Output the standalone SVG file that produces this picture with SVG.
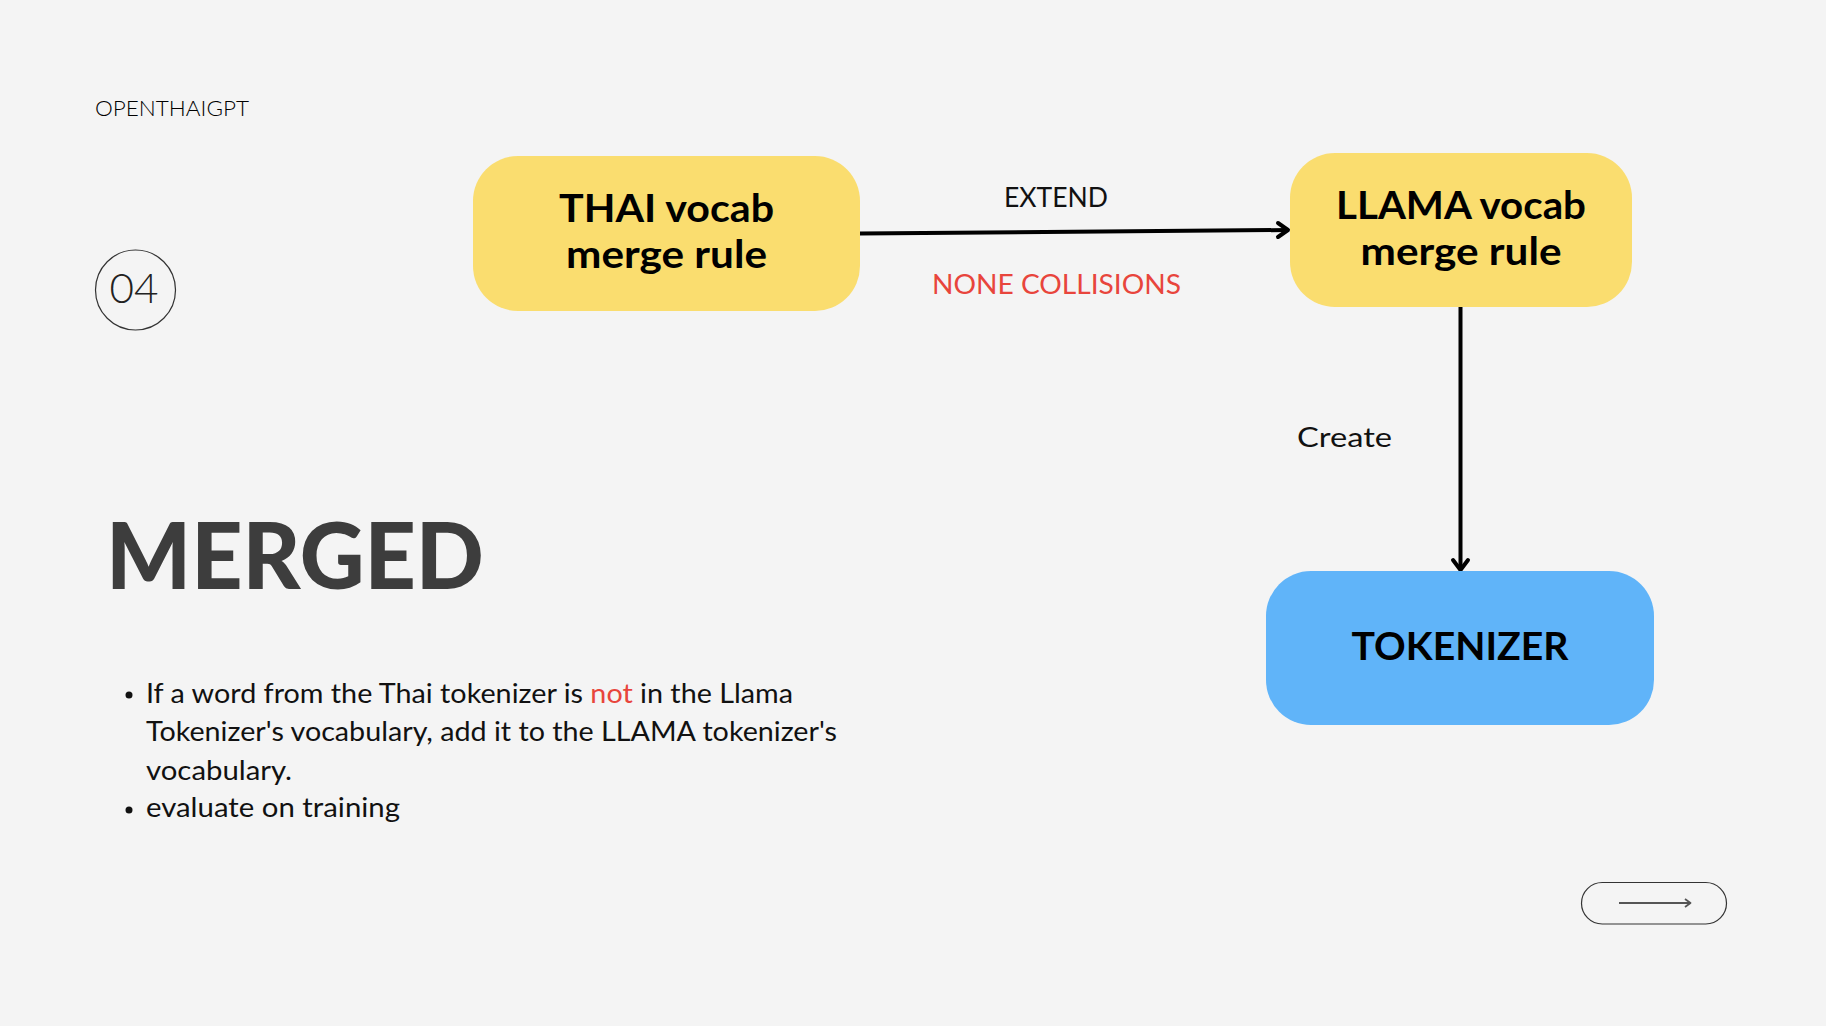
<svg xmlns="http://www.w3.org/2000/svg" width="1826" height="1026" viewBox="0 0 1826 1026">
  <style>
    .sans { font-family: "Lato", "Liberation Sans", "DejaVu Sans", sans-serif; }
    .light { font-weight: 300; }
    .label { font-family: "Lato", "Liberation Sans", sans-serif; font-size: 27px; font-weight: 400; fill: #111; }
    .node-text { font-family: "Lato", "Liberation Sans", sans-serif; font-size: 39px; font-weight: bold; fill: #000; text-anchor: middle; }
    .body { font-family: "Lato", "Liberation Sans", sans-serif; font-size: 27px; font-weight: 400; fill: #111; }
    .yellow { fill: #FADD6F; }
    .blue { fill: #60B4F9; }
    .conn { stroke: #000; stroke-width: 4; fill: none; stroke-linecap: round; stroke-linejoin: round; }
  </style>
  <rect x="0" y="0" width="1826" height="1026" fill="#F4F4F4"/>

  <g id="header">
    <text class="sans light" x="95" y="116" font-size="22" fill="#000" textLength="154" lengthAdjust="spacingAndGlyphs">OPENTHAIGPT</text>
  </g>

  <g id="badge">
    <circle cx="135.5" cy="290" r="40" fill="none" stroke="#333" stroke-width="1.2"/>
    <text class="sans light" x="134" y="303" font-size="42" fill="#222" text-anchor="middle" textLength="49" lengthAdjust="spacingAndGlyphs">04</text>
  </g>

  <g id="title">
    <text class="sans" x="106" y="589" font-size="92" font-weight="900" fill="#3D3D3D" textLength="378" lengthAdjust="spacingAndGlyphs">MERGED</text>
  </g>

  <g id="bullets">
    <circle cx="129" cy="695" r="3.5" fill="#111"/>
    <circle cx="129" cy="810" r="3.5" fill="#111"/>
    <text class="body" x="146" y="703" textLength="647" lengthAdjust="spacingAndGlyphs">If a word from the Thai tokenizer is <tspan fill="#E8453C">not</tspan> in the Llama</text>
    <text class="body" x="146" y="741" textLength="691" lengthAdjust="spacingAndGlyphs">Tokenizer's vocabulary, add it to the LLAMA tokenizer's</text>
    <text class="body" x="146" y="780" textLength="146" lengthAdjust="spacingAndGlyphs">vocabulary.</text>
    <text class="body" x="146" y="817" textLength="254" lengthAdjust="spacingAndGlyphs">evaluate on training</text>
  </g>

  <g id="connectors">
    <line class="conn" x1="860" y1="233.5" x2="1287" y2="230"/>
    <polyline class="conn" points="1278,223 1288,230 1278,237"/>
    <line class="conn" x1="1460.5" y1="307" x2="1460.5" y2="568" stroke-width="3.4"/>
    <polyline class="conn" points="1453,560 1460.5,570 1468,560" stroke-width="3.4"/>
    <text class="label" x="1056" y="207" text-anchor="middle" textLength="104" lengthAdjust="spacingAndGlyphs">EXTEND</text>
    <text class="label" x="1056.5" y="294" text-anchor="middle" style="fill:#E8453C" textLength="249" lengthAdjust="spacingAndGlyphs">NONE COLLISIONS</text>
    <text class="label" x="1297" y="447" font-size="28" textLength="95" lengthAdjust="spacingAndGlyphs">Create</text>
  </g>

  <g id="node-thai">
    <rect class="yellow" x="473" y="156" width="387" height="155" rx="45" ry="45"/>
    <text class="node-text" x="666.5" y="222" textLength="215" lengthAdjust="spacingAndGlyphs">THAI vocab</text>
    <text class="node-text" x="666.5" y="268" textLength="201" lengthAdjust="spacingAndGlyphs">merge rule</text>
  </g>

  <g id="node-llama">
    <rect class="yellow" x="1290" y="153" width="342" height="154" rx="45" ry="45"/>
    <text class="node-text" x="1461" y="219" textLength="250" lengthAdjust="spacingAndGlyphs">LLAMA vocab</text>
    <text class="node-text" x="1461" y="265" textLength="201" lengthAdjust="spacingAndGlyphs">merge rule</text>
  </g>

  <g id="node-tokenizer">
    <rect class="blue" x="1266" y="571" width="388" height="154" rx="45" ry="45"/>
    <text class="node-text" x="1460" y="660" font-size="38" textLength="217" lengthAdjust="spacingAndGlyphs">TOKENIZER</text>
  </g>

  <g id="next-button">
    <rect x="1581.5" y="882.5" width="145" height="41.5" rx="20.75" ry="20.75" fill="none" stroke="#333" stroke-width="1.2"/>
    <line x1="1619" y1="903" x2="1690" y2="903" stroke="#555" stroke-width="1.8"/>
    <polyline points="1685,899 1690.5,903 1685,907" fill="none" stroke="#555" stroke-width="1.8" stroke-linejoin="round"/>
  </g>
</svg>
